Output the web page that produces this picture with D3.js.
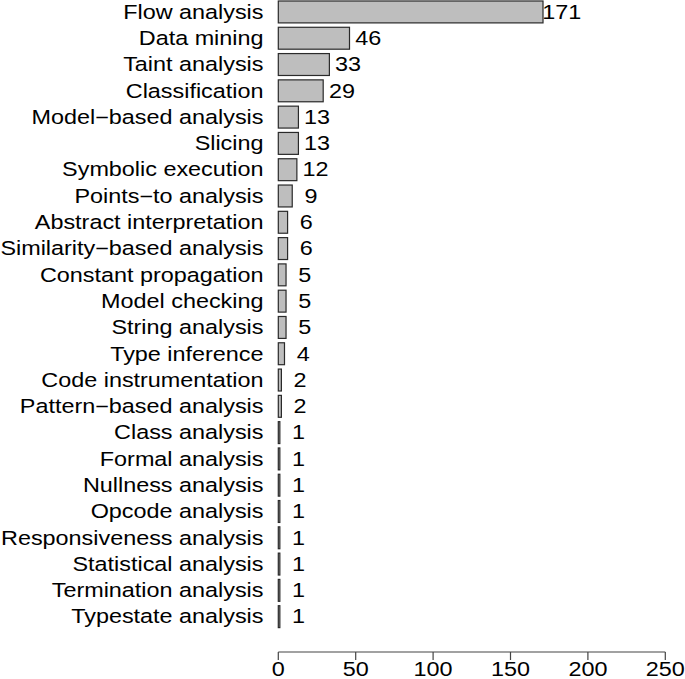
<!DOCTYPE html>
<html><head><meta charset="utf-8">
<script src="https://cdn.jsdelivr.net/npm/d3@7"></script>
<style>
html,body{margin:0;padding:0;background:#fff;}
svg{display:block;}
text{font-family:"Liberation Sans",Arial,Helvetica,sans-serif;fill:#000;}
</style></head>
<body>
<script>
const categories = ["Flow analysis","Data mining","Taint analysis","Classification","Model\u2212based analysis","Slicing","Symbolic execution","Points\u2212to analysis","Abstract interpretation","Similarity\u2212based analysis","Constant propagation","Model checking","String analysis","Type inference","Code instrumentation","Pattern\u2212based analysis","Class analysis","Formal analysis","Nullness analysis","Opcode analysis","Responsiveness analysis","Statistical analysis","Termination analysis","Typestate analysis"];
const values = [171,46,33,29,13,13,12,9,6,6,5,5,5,4,2,2,1,1,1,1,1,1,1,1];
const xTicks = [0,50,100,150,200,250];

const W = 685, H = 679;
const FS = 19.5, SX = 1.2;
const svg = d3.select("body").append("svg").attr("width", W).attr("height", H);

const x = d3.scaleLinear().domain([0,250]).range([278.3,665.3]);
const y = d3.scaleBand().domain(categories).range([-1.2,629.8]).paddingInner(1/6).paddingOuter(1/12);

const data = categories.map((c,i)=>({c, v:values[i]}));

svg.append("g").selectAll("rect").data(data).join("rect")
  .attr("x", x(0))
  .attr("y", d=>y(d.c))
  .attr("width", d=>x(d.v)-x(0))
  .attr("height", y.bandwidth())
  .attr("fill", "#bebebe")
  .attr("stroke", "#2a2a2a")
  .attr("stroke-width", 1.2);

// category labels
svg.append("g").selectAll("text").data(data).join("text")
  .attr("transform", d=>`translate(263.5,${y(d.c)+y.bandwidth()/2+6.8}) scale(${SX},1)`)
  .attr("text-anchor","end")
  .attr("font-size", FS)
  .text(d=>d.c);

// value labels
svg.append("g").selectAll("text").data(data).join("text")
  .attr("transform", d=>`translate(${x(d.v)+18.7},${y(d.c)+y.bandwidth()/2+6.8}) scale(${SX},1)`)
  .attr("text-anchor","middle")
  .attr("font-size", FS)
  .text(d=>d.v);

// x axis
const ax = svg.append("g").attr("transform","translate(0,652)");
ax.append("line").attr("x1", x(0)).attr("x2", x(250)).attr("y1",0).attr("y2",0)
  .attr("stroke","#444").attr("stroke-width",1.2);
ax.selectAll("line.tick").data(xTicks).join("line").attr("class","tick")
  .attr("x1", d=>x(d)).attr("x2", d=>x(d)).attr("y1",0).attr("y2",8)
  .attr("stroke","#444").attr("stroke-width",1.2);
ax.selectAll("text").data(xTicks).join("text")
  .attr("transform", d=>`translate(${x(d)},24) scale(${SX},1)`)
  .attr("text-anchor","middle")
  .attr("font-size", FS)
  .text(d=>d);
</script>
</body></html>
